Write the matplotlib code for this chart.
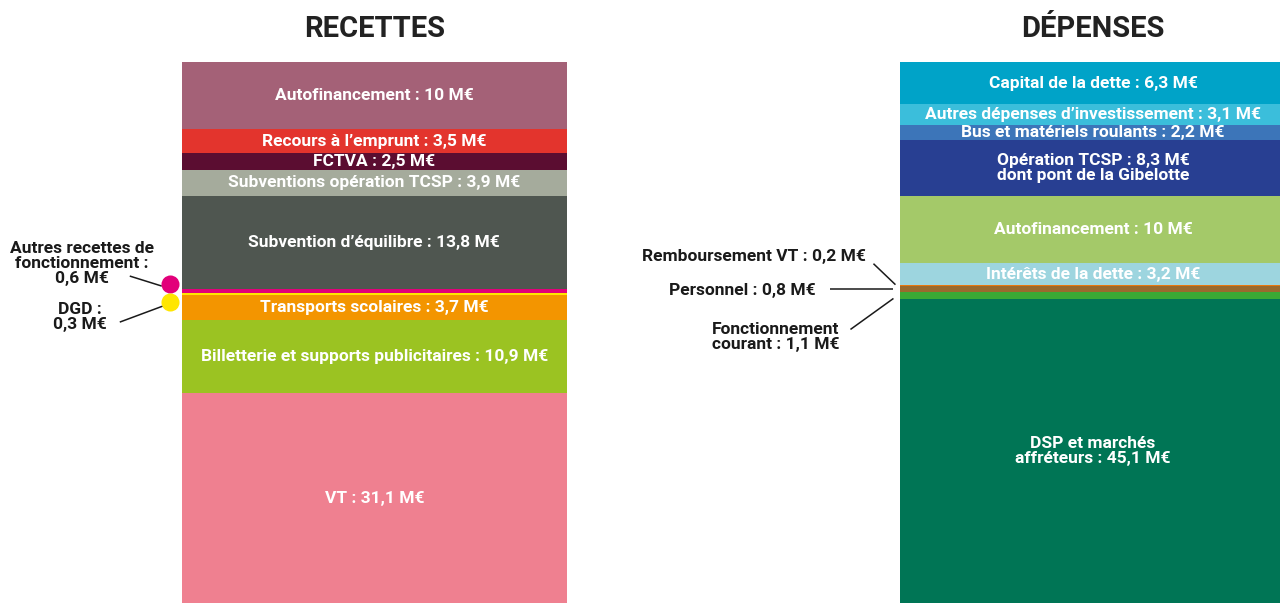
import matplotlib
matplotlib.use("Agg")
import matplotlib.pyplot as plt
import numpy as np

plt.rcParams['font.family'] = ['Roboto', 'DejaVu Sans']

# ---- data ----
titles = ["RECETTES", "DÉPENSES"]

rec_labels = ["Autofinancement : 10 M€", "Recours à l’emprunt : 3,5 M€", "FCTVA : 2,5 M€",
              "Subventions opération TCSP : 3,9 M€", "Subvention d’équilibre : 13,8 M€",
              "Autres recettes de\nfonctionnement :\n0,6 M€", "DGD :\n0,3 M€",
              "Transports scolaires : 3,7 M€", "Billetterie et supports publicitaires : 10,9 M€",
              "VT : 31,1 M€"]
rec_values = [10, 3.5, 2.5, 3.9, 13.8, 0.6, 0.3, 3.7, 10.9, 31.1]
rec_colors = ["#A46177", "#E3342D", "#5B0D31", "#A5AB9C", "#4F5650",
              "#E2007A", "#FFE600", "#F39500", "#9BC322", "#EF8090"]
rec_outside = [False, False, False, False, False, True, True, False, False, False]

dep_labels = ["Capital de la dette : 6,3 M€", "Autres dépenses d’investissement : 3,1 M€",
              "Bus et matériels roulants : 2,2 M€", "Opération TCSP : 8,3 M€\ndont pont de la Gibelotte",
              "Autofinancement : 10 M€", "Intérêts de la dette : 3,2 M€",
              "Remboursement VT : 0,2 M€", "Personnel : 0,8 M€",
              "Fonctionnement\ncourant : 1,1 M€", "DSP et marchés\naffréteurs : 45,1 M€"]
dep_values = [6.3, 3.1, 2.2, 8.3, 10, 3.2, 0.2, 0.8, 1.1, 45.1]
dep_colors = ["#00A3C8", "#3BBEDB", "#3C75B9", "#283F92", "#A4C969", "#9DD5DF",
              "#E8780F", "#9A6A2E", "#3AA935", "#007555"]
dep_outside = [False, False, False, False, False, False, True, True, True, False]

W, H = 1280, 603
fig = plt.figure(figsize=(W / 100, H / 100), dpi=100)
ax = fig.add_axes([0, 0, 1, 1])
ax.axis("off")

total = sum(rec_values)
bar_w = 0.538
XS = 715.5  # pixels per x unit
ax.set_xlim(-0.523, 1.2655)
ax.set_ylim(0, total * 603 / 541)
unit = ax.get_ylim()[1] / H  # data units per pixel


def px(dx):
    return dx / XS


def py(dy):
    return dy * unit


text_kw = dict(color="white", fontweight="bold", fontsize=12.5, ha="center", va="center",
               linespacing=1.0)
out_kw = dict(color="#1a1a1a", fontweight="bold", fontsize=12.5, ha="center", va="center",
              linespacing=1.0)
line_kw = dict(color="#1a1a1a", lw=1.1, solid_capstyle="butt")


def draw_stack(xc, labels, values, colors, outside):
    tops = total - np.concatenate([[0], np.cumsum(values)[:-1]])
    bottoms = tops - np.array(values)
    ax.bar([xc] * len(values), values, bottom=bottoms, width=bar_w, color=colors,
           linewidth=0, align="center")
    for lab, b, v, o in zip(labels, bottoms, values, outside):
        if not o:
            ax.text(xc, b + v / 2, lab, **text_kw)
    return bottoms


# ---- Recettes ----
rb = draw_stack(0, rec_labels, rec_values, rec_colors, rec_outside)
left_edge = -bar_w / 2
dot_x = left_edge - px(12)
i_aut, i_dgd = 5, 6
y_aut = rb[i_aut] + rec_values[i_aut] / 2 + py(7)
y_dgd = rb[i_dgd] + rec_values[i_dgd] / 2 - py(8)
ax.plot([dot_x], [y_aut], "o", ms=13, color=rec_colors[i_aut], mec="none", zorder=5)
ax.plot([dot_x], [y_dgd], "o", ms=13, color=rec_colors[i_dgd], mec="none", zorder=5)
ax.text(dot_x - px(88), y_aut + py(21), rec_labels[i_aut], **out_kw)
ax.text(dot_x - px(90), y_dgd - py(15), rec_labels[i_dgd], **out_kw)
ax.plot([dot_x - px(40), dot_x - px(8)], [y_aut + py(8), y_aut - py(2)], **line_kw)
ax.plot([dot_x - px(50), dot_x - px(7)], [y_dgd - py(20), y_dgd - py(4)], **line_kw)

# ---- Dépenses ----
xd = 1 + px(3)
db = draw_stack(xd, dep_labels, dep_values, dep_colors, dep_outside)
d_left = xd - bar_w / 2
i_rvt, i_pers, i_fonc = 6, 7, 8
c_rvt = db[i_rvt] + dep_values[i_rvt] / 2
c_pers = db[i_pers] + dep_values[i_pers] / 2
c_fonc = db[i_fonc] + dep_values[i_fonc] / 2
ax.text(d_left - px(146), c_rvt + py(29), dep_labels[i_rvt], **out_kw)
ax.text(d_left - px(158), c_pers - py(1), dep_labels[i_pers], **out_kw)
ax.text(d_left - px(125), c_fonc - py(42), dep_labels[i_fonc], **out_kw)
ax.plot([d_left - px(27), d_left - px(5)], [c_rvt + py(22), c_rvt + py(1)], **line_kw)
ax.plot([d_left - px(70), d_left - px(7)], [c_pers, c_pers], **line_kw)
ax.plot([d_left - px(50), d_left - px(7)], [c_fonc - py(34), c_fonc - py(3)], **line_kw)

# ---- Titles ----
for xc, t in zip([0, xd], titles):
    ax.text(xc, total + py(33), t, ha="center", va="center", fontsize=21,
            fontweight="bold", color="#222222")

fig.savefig("out.png", dpi=100)
